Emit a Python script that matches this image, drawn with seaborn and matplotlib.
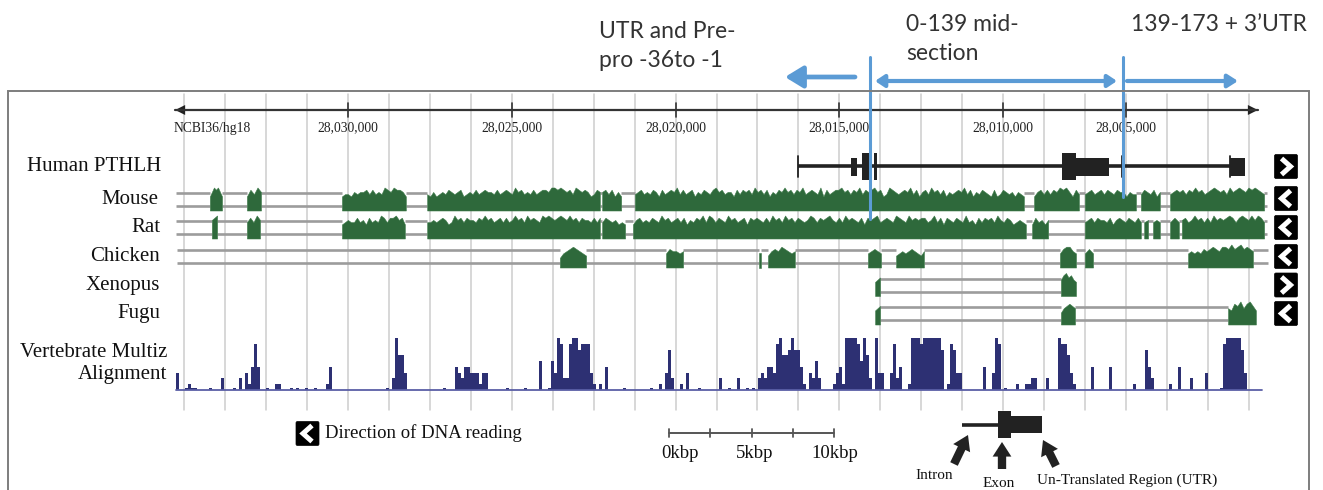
import numpy as np
import matplotlib
matplotlib.use("Agg")
import matplotlib.pyplot as plt
import seaborn as sns
from matplotlib.patches import FancyBboxPatch

sns.set_theme(style="white")
plt.rcParams['font.family'] = ['Liberation Serif', 'DejaVu Serif']

# ------------------------------------------------------------------ data
# genomic coordinates in kb (NCBI36/hg18, chr12)
ruler_ticks_kb = [28030, 28025, 28020, 28015, 28010, 28006.25]
ruler_labels = ["28,030,000", "28,025,000", "28,020,000", "28,015,000", "28,010,000", "28,005,000"]
assembly_label = "NCBI36/hg18"
ruler_span_kb = (28035.27, 28002.23)
grid_start_kb, grid_step_kb, grid_count = 28035.0, 1.25, 27

gene_name = "Human PTHLH"
gene_span_kb = (28016.26, 28002.62)
gene_block_start = [28014.65, 28014.31, 28013.94, 28008.21, 28007.78, 28003.08]
gene_block_end = [28014.46, 28014.10, 28013.85, 28007.78, 28006.77, 28002.62]
gene_block_kind = ["utr", "cds", "cds", "cds", "utr", "utr"]
gene_ticks_kb = [28016.26, 28006.38, 28003.08]

species = ["Mouse", "Rat", "Chicken", "Xenopus", "Fugu"]
track_strand = ["+", "-", "-", "-", "+", "-"]   # gene, then species

mouse_line = (28035.24, 28001.95)
mouse_blocks = [
    (28034.21, 28033.84, "5798975"),
    (28033.08, 28032.65, "58697"),
    (28030.18, 28028.23, "5665767786867698798875"),
    (28027.58, 28022.31, "6575676876785676867877686787697867686788799898786987875687"),
    (28022.24, 28021.66, "7868575"),
    (28021.24, 28009.37, "67867687586787968678576876897867758687869786857687978687967876958678897868796878978569876787968578697868576787968576876585687675765"),
    (28009.06, 28007.69, "578686879897586"),
    (28007.51, 28005.95, "67867868768775766"),
    (28005.80, 28005.22, "6876857"),
    (28004.91, 28002.04, "6787868797867898786978987989876"),
]
rat_line = (28035.24, 28001.95)
rat_blocks = [
    (28034.15, 28033.99, "79"),
    (28033.08, 28032.68, "68697"),
    (28030.18, 28028.26, "5676686758676986889785"),
    (28027.58, 28022.31, "6676787569786877687978678686797869787698987898797868776868"),
    (28022.24, 28021.54, "68767565"),
    (28021.30, 28009.31, "57867687697867868576879698687697867858787686978697868767986878976869787685878967876987697878867968587687696758687869768756765"),
    (28009.12, 28008.63, "586757"),
    (28007.51, 28005.80, "6786877685787687686"),
    (28005.70, 28005.58, "67"),
    (28005.43, 28005.22, "676"),
    (28004.91, 28004.64, "686"),
    (28004.55, 28002.04, "786797868697878986898797986"),
]
chicken_line = (28035.21, 28001.92)
chicken_blocks = [
    (28023.53, 28022.73, "356787654"),
    (28020.29, 28019.77, "576656"),
    (28017.45, 28017.39, "5"),
    (28017.18, 28016.36, "467687656"),
    (28014.13, 28013.73, "56765"),
    (28013.27, 28012.42, "4565676546"),
    (28008.27, 28007.78, "578865"),
    (28007.51, 28007.26, "575"),
    (28004.36, 28002.38, "5656576787688797897876"),
]
xenopus_line = (28013.91, 28007.78)
xenopus_blocks = [
    (28013.91, 28013.76, "57"),
    (28008.24, 28007.78, "6897865"),
]
fugu_line = (28013.91, 28002.29)
fugu_blocks = [
    (28013.91, 28013.76, "57"),
    (28008.24, 28007.81, "467876"),
    (28003.14, 28002.29, "6587968975"),
]

# Vertebrate Multiz conservation, one level (0-9, '.' = tiny) per bin
multiz_start_kb, multiz_step_kb, multiz_end_kb = 28035.24, 0.09155, 28002.10
multiz_levels = "".join([
    "300.1..000", "0.0002000.", "0203148400", ".0011000.0", ".00.00.000",
    "1400000000", "0000000000", ".029663000", "000000000.", "0004324433",
    "3133000000", ".00000.000", "0500.53982", "2899788831", "010400000.",
    "00000000.0", "0103720010", "3000.00000", "0200.00200", ".0.0232443",
    "8966797741", "0325200001", "3419999859", "6209330038", "2400199989",
    "9999970187", "3300000004", "003980.000", "1001122000", "2000988631",
    "0000040000", "0400000001", "0007420000", "0100400020", "00030000.8",
    "9999973000", "00",
])

boundary_kb = [28014.07, 28006.35]
section_texts = [["UTR and Pre-", "pro -36to -1"], ["0-139 mid-", "section"], ["139-173 + 3\u2019UTR"]]

scale_ticks_kbp = [0, 2.5, 5, 7.5, 10]
scale_label_kbp = [0, 5, 10]
legend_parts = ["Intron", "Exon", "Un-Translated Region (UTR)"]

# ------------------------------------------------------------------ style / layout
W, H = 1323, 490
PX_PER_KB = 32.77
GREEN, GAP, NAVY, BASE = "#2e693b", "#9c9c9c", "#2d3073", "#5a5fa6"
BLUE, INK, GRID, FRAME = "#5b9bd5", "#222222", "#cdcdcd", "#7d7d7d"
row_y = [166.5, 199.5, 227.5, 256.5, 285.0, 313.5]
label_x = [161, 158, 160, 160, 160, 160]

fig = plt.figure(figsize=(W / 100, H / 100), dpi=100, facecolor="white")
ax = fig.add_axes([0, 0, 1, 1])
x0 = grid_start_kb + 184 / PX_PER_KB
ax.set_xlim(x0, x0 - W / PX_PER_KB)
ax.set_ylim(H, 0)
ax.axis("off")
deco = fig.add_axes([0, 0, 1, 1], frameon=False)
deco.set_xlim(0, W)
deco.set_ylim(H, 0)
deco.axis("off")

# frame
deco.plot([8, 8, 1309, 1309], [H, 91, 91, H], color=FRAME, lw=1.4, solid_joinstyle="miter")

# grid lines
for k in range(grid_count):
    g = grid_start_kb - k * grid_step_kb
    ax.plot([g, g], [94, 410], color=GRID, lw=1.1, zorder=0)

# ruler
sns.lineplot(x=list(ruler_span_kb), y=[110, 110], ax=ax, color="#333333", lw=1.6, sort=False, estimator=None)
al = 10 / PX_PER_KB
ax.fill([ruler_span_kb[0], ruler_span_kb[0] - al, ruler_span_kb[0] - al], [110, 105, 115], color="#222222", lw=0)
ax.fill([ruler_span_kb[1], ruler_span_kb[1] + al, ruler_span_kb[1] + al], [110, 105, 115], color="#222222", lw=0)
for t, lab in zip(ruler_ticks_kb, ruler_labels):
    ax.plot([t, t], [103, 117], color="#333333", lw=1.2)
    ax.text(t, 128, lab, ha="center", va="center", fontsize=9.8, color="#222222")
ax.text(ruler_span_kb[0] + 0.06, 128, assembly_label, ha="left", va="center", fontsize=9.8, color="#222222")

# gene track
gy = row_y[0]
ax.plot(list(gene_span_kb), [gy, gy], color=INK, lw=2.6, solid_capstyle="butt")
for s, e, kind in zip(gene_block_start, gene_block_end, gene_block_kind):
    half = 9 if kind == "utr" else 13.5
    ax.fill_between([s, e], gy - half, gy + half, color=INK, lw=0)
for t in gene_ticks_kb:
    ax.plot([t, t], [gy - 10, gy + 11], color=INK, lw=1.3)


def draw_alignment(yc, line_span, blocks):
    top, bot, base = yc - 6.5, yc + 6.5, yc + 11
    edges = [line_span[0]]
    for s, e, _ in blocks:
        edges += [s, e]
    edges.append(line_span[1])
    for i in range(0, len(edges), 2):
        a, b = edges[i], edges[i + 1]
        if a - b > 1e-6:
            for yy in (top, bot):
                ax.plot([a, b], [yy, yy], color=GAP, lw=1.9, solid_capstyle="butt", zorder=2)
    for s, e, hs in blocks:
        lev = np.array([float(c) for c in hs])
        if len(lev) == 1:
            lev = np.repeat(lev, 2)
        xs = np.linspace(s, e, len(lev))
        ax.fill_between(xs, base, base - (3 + lev / 9 * 20), color=GREEN, lw=0.4,
                        edgecolor="#3d7a49", zorder=3)


tracks = [(mouse_line, mouse_blocks), (rat_line, rat_blocks), (chicken_line, chicken_blocks),
          (xenopus_line, xenopus_blocks), (fugu_line, fugu_blocks)]
for yc, (ln, bl) in zip(row_y[1:], tracks):
    draw_alignment(yc, ln, bl)

# multiz
lev = np.array([0.35 if c == "." else float(c) for c in multiz_levels])
xs = multiz_start_kb - (np.arange(len(lev)) + 0.5) * multiz_step_kb
m = lev > 0
ax.bar(xs[m], -lev[m] / 9 * 52, bottom=390, width=multiz_step_kb * 0.92, color=NAVY, lw=0, zorder=3)
ax.plot([multiz_start_kb, multiz_end_kb], [390, 390], color=BASE, lw=1.3, zorder=4)

# boundary lines
for b, yb in zip(boundary_kb, [219, 197]):
    ax.plot([b, b], [57, yb], color=BLUE, lw=2.2, zorder=6)

# track labels
for name, x, y in zip([gene_name] + species, label_x, row_y):
    deco.text(x, y, name, ha="right", va="center", fontsize=15, color="#111111")
deco.text(167, 352, "Vertebrate Multiz", ha="right", va="center", fontsize=15, color="#111111")
deco.text(167, 374, "Alignment", ha="right", va="center", fontsize=15, color="#111111")


def chevron(cx, cy, d):
    deco.add_patch(FancyBboxPatch((cx - 11.5, cy - 12), 23, 24, boxstyle="round,pad=0,rounding_size=1.5",
                                  fc="black", ec="black", lw=0.5))
    sx = 4.5 if d == ">" else -4.5
    deco.plot([cx - sx, cx + sx, cx - sx], [cy - 8, cy, cy + 8], color="white", lw=3.6,
              solid_joinstyle="miter", solid_capstyle="butt")


for y, st in zip([166.5, 198.5, 227.5, 256.5, 285, 313.5], track_strand):
    chevron(1286, y, ">" if st == "+" else "<")

# section annotations
tf = dict(family=["Lato", "DejaVu Sans"], fontsize=16.5, color="#333333", va="baseline", ha="left")
deco.text(599, 38, section_texts[0][0], **tf)
deco.text(599, 67, section_texts[0][1], **tf)
deco.text(906, 31, section_texts[1][0], **tf)
deco.text(906, 60, section_texts[1][1], **tf)
deco.text(1131, 31, section_texts[2][0], **tf)
deco.annotate("", xy=(785, 77), xytext=(855, 77),
              arrowprops=dict(arrowstyle="-|>,head_length=0.9,head_width=0.55", lw=3.4, color=BLUE,
                              shrinkA=0, shrinkB=0))
deco.annotate("", xy=(1117, 81), xytext=(875, 81),
              arrowprops=dict(arrowstyle="<|-|>,head_length=0.45,head_width=0.3", lw=3.0, color=BLUE,
                              shrinkA=0, shrinkB=0))
deco.annotate("", xy=(1238, 81), xytext=(1127, 81),
              arrowprops=dict(arrowstyle="-|>,head_length=0.5,head_width=0.32", lw=3.0, color=BLUE,
                              shrinkA=0, shrinkB=0))

# legend: direction
chevron(307.5, 433.5, "<")
deco.text(325, 433, "Direction of DNA reading", ha="left", va="center", fontsize=13.5, color="#111111")

# scale bar
sp = [669 + v * 16.5 for v in scale_ticks_kbp]
deco.plot([sp[0], sp[-1]], [433, 433], color="#555555", lw=1.4)
for p in sp:
    deco.plot([p, p], [429, 437], color="#555555", lw=1.3)
for v, off in zip(scale_label_kbp, [11, 3, 1]):
    deco.text(669 + v * 16.5 + off, 453, f"{v:g}kbp", ha="center", va="center", fontsize=13.5, color="#111111")

# legend: gene structure
deco.plot([962, 999], [425, 425], color=INK, lw=2.6, solid_capstyle="butt")
deco.fill_between([998, 1011], 411, 438, color=INK, lw=0)
deco.fill_between([1011, 1042], 416, 433, color=INK, lw=0)
for (x1, y1), (x2, y2) in [((954, 464), (968, 435)), ((1002, 469), (1002, 442)), ((1056, 466), (1043, 440))]:
    deco.annotate("", xy=(x2, y2), xytext=(x1, y1),
                  arrowprops=dict(arrowstyle="simple,head_length=0.7,head_width=0.9,tail_width=0.4",
                                  color="#222222", mutation_scale=15, shrinkA=0, shrinkB=0, lw=0))
deco.text(934, 475, legend_parts[0], ha="center", va="center", fontsize=11, color="#111111")
deco.text(999, 483, legend_parts[1], ha="center", va="center", fontsize=11, color="#111111")
deco.text(1037, 480, legend_parts[2], ha="left", va="center", fontsize=11, color="#111111")

fig.savefig("out.png", dpi=100, facecolor="white")
